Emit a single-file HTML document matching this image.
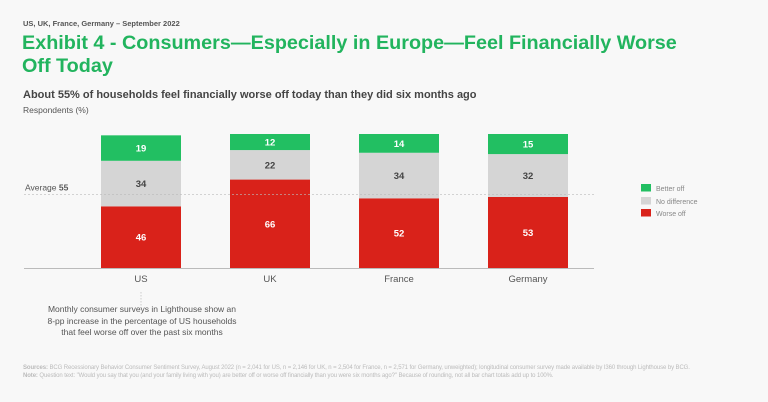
<!DOCTYPE html>
<html><head><meta charset="utf-8"><style>
body{margin:0;width:768px;height:402px;background:#f8f8f8;font-family:"Liberation Sans",sans-serif;overflow:hidden;position:relative}
.t{position:absolute;white-space:nowrap}
</style></head><body>
<div class="t" style="left:23px;top:19px;font-size:7.5px;font-weight:bold;color:#555">US, UK, France, Germany – September 2022</div>
<div class="t" style="left:22px;top:32px;font-size:19.8px;font-weight:bold;color:#22b45e;line-height:23px">Exhibit 4 - Consumers—Especially in Europe—Feel Financially Worse<br>Off Today</div>
<div class="t" style="left:23px;top:89px;font-size:11px;font-weight:bold;color:#444">About 55% of households feel financially worse off today than they did six months ago</div>
<div class="t" style="left:23px;top:105px;font-size:8.5px;color:#555">Respondents (%)</div>
<svg id="chart" width="768" height="402" style="position:absolute;left:0;top:0" font-family="Liberation Sans, sans-serif"></svg>
<div class="t" style="left:36px;top:304px;width:212px;text-align:center;font-size:8.5px;color:#555;line-height:11.5px">Monthly consumer surveys in Lighthouse show an<br>8-pp increase in the percentage of US households<br>that feel worse off over the past six months</div>
<div class="t" style="left:23px;top:364px;font-size:6px;color:#bbb;line-height:8px;letter-spacing:-0.1px"><b>Sources:</b> BCG Recessionary Behavior Consumer Sentiment Survey, August 2022 (n = 2,041 for US, n = 2,146 for UK, n = 2,504 for France, n = 2,571 for Germany, unweighted); longitudinal consumer survey made available by I360 through Lighthouse by BCG.<br><b>Note:</b> Question text: "Would you say that you (and your family living with you) are better off or worse off financially than you were six months ago?" Because of rounding, not all bar chart totals add up to 100%.</div>
<script>
const categories=["US","UK","France","Germany"];
const worseOff=[46,66,52,53];
const noDifference=[34,22,34,32];
const betterOff=[19,12,14,15];
const average=55;
const svg=document.getElementById('chart');
const NS='http://www.w3.org/2000/svg';
const base=268, scale=1.34, x0=24, x1=594;
const firstCenter=141, step=129, bw=80;
const y=v=>base-v*scale;
const xc=i=>firstCenter+step*i;
function mk(tag,a){const e=document.createElementNS(NS,tag);for(const k in a)e.setAttribute(k,a[k]);svg.appendChild(e);return e;}
const cols={worse:'#d9221a',none:'#d5d5d5',better:'#22bf62'};
categories.forEach((c,i)=>{
  let acc=0;
  [[worseOff[i],cols.worse,'#fff','worse-off'],[noDifference[i],cols.none,'#444','no-difference'],[betterOff[i],cols.better,'#fff','better-off']].forEach(([v,f,tc,n])=>{
    const r=mk('rect',{x:xc(i)-bw/2,y:y(acc+v),width:bw,height:v*scale,fill:f});
    
    
    const t=mk('text',{x:xc(i),y:y(acc+v/2)+3.5,'text-anchor':'middle','font-size':9.5,'font-weight':'bold',fill:tc});
    t.textContent=v;
    
    
    acc+=v;
  });
  const l=mk('text',{x:xc(i),y:base+14,'text-anchor':'middle','font-size':9.5,fill:'#555'});
  l.textContent=c;
  
  
});
const al=mk('line',{x1:x0,x2:x1,y1:y(average),y2:y(average),stroke:'#bbb','stroke-width':0.7,'stroke-dasharray':'2,2'});


const at=mk('text',{x:25,y:y(average)-4,'font-size':8.5,fill:'#555'});
at.innerHTML='Average <tspan font-weight="bold">'+average+'</tspan>';


const ax=mk('line',{x1:x0,x2:x1,y1:base+0.5,y2:base+0.5,stroke:'#bbb','stroke-width':1});


const ld=mk('line',{x1:xc(0),x2:xc(0),y1:base+24,y2:base+40,stroke:'#bbb','stroke-width':0.7,'stroke-dasharray':'1.5,1.5'});


[['Better off',cols.better,184],['No difference',cols.none,197],['Worse off',cols.worse,209]].forEach(([n,f,yy])=>{
  const g=mk('rect',{x:641,y:yy,width:10,height:7.5,fill:f});
  
  
  const t=mk('text',{x:656,y:yy+7,'font-size':7,fill:'#888'});
  t.textContent=n;
  
  
});
</script>
</body></html>
